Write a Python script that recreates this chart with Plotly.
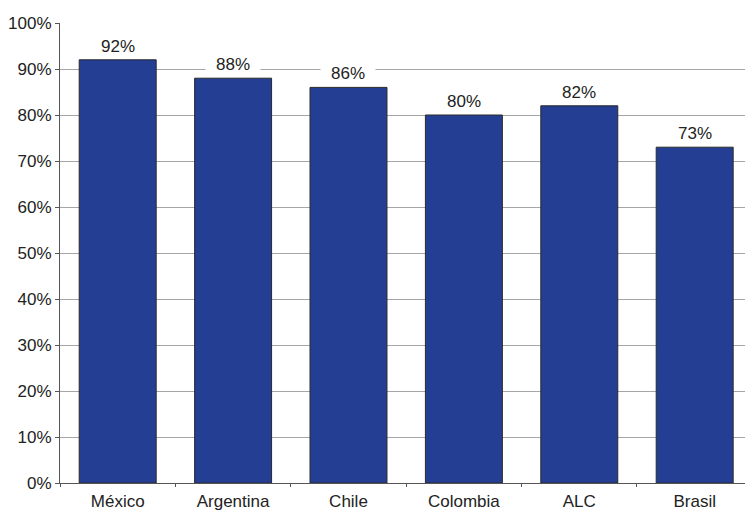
import plotly.graph_objects as go

# Share of respondents by country / region
categories = ["México", "Argentina", "Chile", "Colombia", "ALC", "Brasil"]
values = [92, 88, 86, 80, 82, 73]
y_ticks = [0, 10, 20, 30, 40, 50, 60, 70, 80, 90, 100]
y_tick_labels = [f"{t}%" for t in y_ticks]

BAR_COLOR = "rgb(35,62,147)"
TEXT_COLOR = "#222222"
FONT = "Liberation Sans, Arial, sans-serif"

fig = go.Figure(
    go.Bar(
        x=categories,
        y=values,
        marker=dict(color=BAR_COLOR, line=dict(color="#2a2a2a", width=1)),
        hoverinfo="skip",
    )
)

# value labels on white boxes above each bar
for cat, val in zip(categories, values):
    fig.add_annotation(
        x=cat,
        y=val,
        text=f"{val}%",
        showarrow=False,
        yanchor="bottom",
        yshift=2,
        bgcolor="white",
        borderpad=1,
        width=52,
        font=dict(family=FONT, size=17, color=TEXT_COLOR),
    )

fig.update_layout(
    width=745,
    height=511,
    margin=dict(l=60, r=0, t=23, b=28),
    paper_bgcolor="white",
    plot_bgcolor="white",
    bargap=0.333,
    showlegend=False,
    font=dict(family=FONT, size=17, color=TEXT_COLOR),
    xaxis=dict(
        type="category",
        range=[-0.5, 5.436],
        showgrid=False,
        showline=True,
        linecolor="#555555",
        linewidth=1,
        ticks="outside",
        tickson="boundaries",
        ticklen=3,
        tickcolor="#555555",
        ticklabelstandoff=3,
        tickfont=dict(family=FONT, size=17, color=TEXT_COLOR),
        automargin=False,
        fixedrange=True,
    ),
    yaxis=dict(
        range=[0, 100],
        tickvals=y_ticks,
        ticktext=y_tick_labels,
        showgrid=True,
        gridcolor="#a6a6a6",
        gridwidth=1,
        zeroline=False,
        showline=True,
        linecolor="#555555",
        linewidth=1,
        ticks="outside",
        ticklen=4,
        tickcolor="#555555",
        tickfont=dict(family=FONT, size=17, color=TEXT_COLOR),
        automargin=False,
        fixedrange=True,
    ),
)

fig.write_html("out.html")
